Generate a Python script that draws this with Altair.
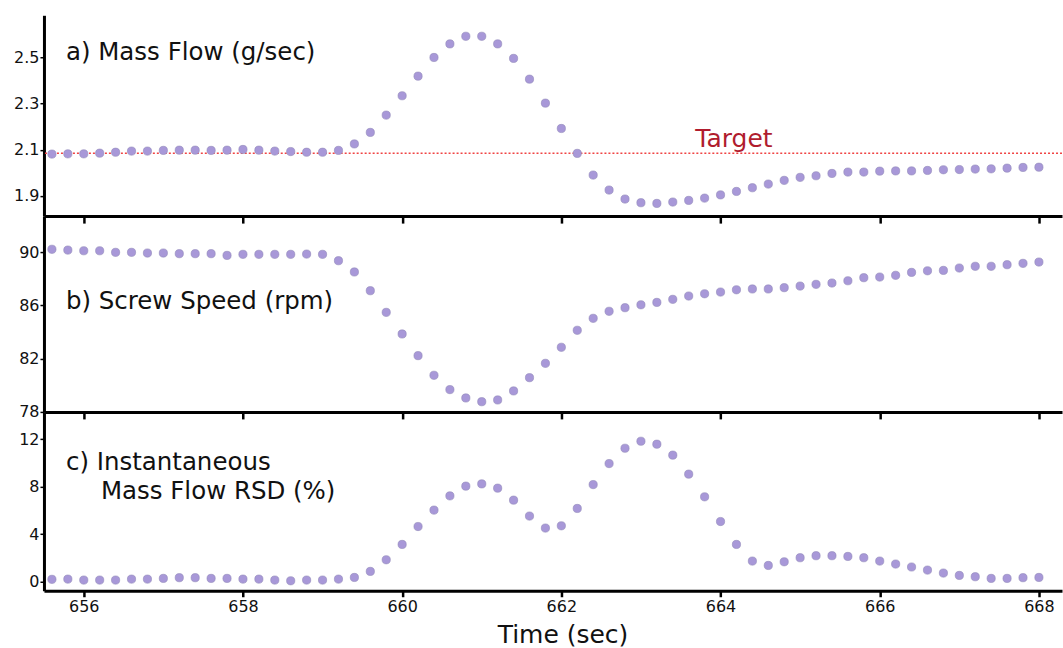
import altair as alt
import pandas as pd

# Sample times (sec), every 0.2 s
time_start = 655.6
n_points = 63
time = [round(time_start + 0.2 * i, 1) for i in range(n_points)]

mass_flow = [
    2.081, 2.082, 2.082, 2.085, 2.089, 2.094, 2.094, 2.097, 2.098, 2.098,
    2.097, 2.098, 2.101, 2.098, 2.094, 2.092, 2.089, 2.089, 2.097, 2.125,
    2.175, 2.250, 2.334, 2.419, 2.500, 2.559, 2.592, 2.592, 2.559, 2.496,
    2.406, 2.302, 2.192, 2.084, 1.990, 1.925, 1.886, 1.870, 1.867, 1.873,
    1.880, 1.890, 1.904, 1.919, 1.935, 1.951, 1.967, 1.980, 1.987, 1.997,
    2.003, 2.003, 2.007, 2.008, 2.008, 2.010, 2.013, 2.014, 2.016, 2.017,
    2.020, 2.023, 2.024,
]

screw_speed = [
    90.23, 90.17, 90.12, 90.12, 90.00, 90.00, 89.95, 89.95, 89.90, 89.90,
    89.90, 89.77, 89.85, 89.85, 89.85, 89.85, 89.87, 89.85, 89.37, 88.52,
    87.11, 85.48, 83.85, 82.22, 80.74, 79.66, 79.03, 78.75, 78.88, 79.56,
    80.56, 81.64, 82.85, 84.13, 85.03, 85.56, 85.83, 86.05, 86.23, 86.46,
    86.71, 86.88, 87.01, 87.18, 87.24, 87.24, 87.34, 87.46, 87.59, 87.69,
    87.86, 88.09, 88.14, 88.27, 88.49, 88.61, 88.64, 88.82, 88.95, 88.95,
    89.07, 89.17, 89.27,
]

rsd = [
    0.20, 0.22, 0.14, 0.14, 0.14, 0.22, 0.22, 0.28, 0.34, 0.34,
    0.28, 0.28, 0.22, 0.22, 0.14, 0.08, 0.14, 0.14, 0.22, 0.36,
    0.87, 1.85, 3.14, 4.65, 6.03, 7.23, 8.05, 8.24, 7.88, 6.87,
    5.53, 4.52, 4.71, 6.17, 8.18, 9.95, 11.24, 11.83, 11.58, 10.66,
    9.06, 7.15, 5.07, 3.14, 1.74, 1.37, 1.68, 2.02, 2.19, 2.19,
    2.13, 2.02, 1.74, 1.49, 1.24, 0.98, 0.73, 0.53, 0.42, 0.28,
    0.28, 0.34, 0.36,
]

target_flow = 2.085
target_label = "Target"

x_ticks = [656, 658, 660, 662, 664, 666, 668]
ticks_a = [1.9, 2.1, 2.3, 2.5]
ticks_b = [78, 82, 86, 90]
ticks_c = [0, 4, 8, 12]

title_a = "a) Mass Flow (g/sec)"
title_b = "b) Screw Speed (rpm)"
title_c = ["c) Instantaneous", "Mass Flow RSD (%)"]

df = pd.DataFrame({"time": time, "flow": mass_flow, "speed": screw_speed, "rsd": rsd})

FONT = "DejaVu Sans"
W = 1019
DOT_FILL = "#a898d8"
DOT_STROKE = "#9088b8"
TEXT_SIZE = 24.5
TICK_FONT = 16

x_scale = alt.Scale(domain=[655.5, 668.29], nice=False, zero=False)


def x_axis(labels):
    if labels:
        return alt.Axis(values=x_ticks, title="Time (sec)", labelFontSize=TICK_FONT,
                        labelFont=FONT, labelColor="#111", labelPadding=2,
                        titleFont=FONT, titleFontSize=25, titleFontWeight="normal",
                        titleColor="#111", titlePadding=8, titleX=519,
                        domainColor="black", domainWidth=3, tickColor="black",
                        tickWidth=2.5, tickSize=6, grid=False)
    return alt.Axis(values=x_ticks, title=None, labels=False,
                    domainColor="black", domainWidth=3, tickColor="black",
                    tickWidth=2.5, tickSize=7, grid=False)


def y_axis(vals, fmt):
    return alt.Axis(values=vals, format=fmt, title=None, labelFontSize=TICK_FONT,
                    labelFont=FONT, labelColor="#111", labelPadding=1,
                    domainColor="black", domainWidth=3, tickColor="black",
                    tickWidth=1.5, tickSize=4, grid=False)


def dots(field, domain, vals, fmt, labels):
    return alt.Chart(df).mark_circle(
        size=68, fill=DOT_FILL, stroke=DOT_STROKE, strokeWidth=0.6, opacity=1
    ).encode(
        x=alt.X("time:Q", scale=x_scale, axis=x_axis(labels)),
        y=alt.Y(f"{field}:Q", scale=alt.Scale(domain=domain, nice=False, zero=False),
                axis=y_axis(vals, fmt)),
    )


def label(text, px, py):
    return alt.Chart(pd.DataFrame({"t": [text]})).mark_text(
        align="left", baseline="middle", font=FONT, fontSize=TEXT_SIZE, color="#111"
    ).encode(text="t:N", x=alt.value(px), y=alt.value(py))


# a) mass flow with target line
target_df = pd.DataFrame({"y": [target_flow], "t": [target_label]})
target_line = alt.Chart(target_df).mark_rule(
    color="#f04444", strokeWidth=1.5, strokeDash=[2, 2]
).encode(y=alt.Y("y:Q"))
target_text = alt.Chart(target_df).mark_text(
    align="left", baseline="middle", font=FONT, fontSize=25, color="#b01c2e"
).encode(text="t:N", x=alt.value(652), y=alt.value(124))

panel_a = alt.layer(
    target_line,
    dots("flow", [1.812, 2.683], ticks_a, ".1f", False),
    target_text,
    label(title_a, 22, 38),
).properties(width=W, height=201)

panel_b = alt.layer(
    dots("speed", [77.98, 92.73], ticks_b, "d", False),
    label(title_b, 22, 86),
).properties(width=W, height=196)

panel_c = alt.layer(
    dots("rsd", [-0.76, 14.30], ticks_c, "d", True),
    label(title_c[0], 22, 51),
    label(title_c[1], 57, 80),
).properties(width=W, height=179)

chart = alt.vconcat(
    panel_a, panel_b, panel_c, spacing=0, bounds="flush"
).properties(
    padding={"left": 13, "top": 15, "right": 0, "bottom": 0},
    background="white",
).configure_view(strokeWidth=0)

chart.save("out.html", embed_options={"renderer": "svg", "actions": False})
